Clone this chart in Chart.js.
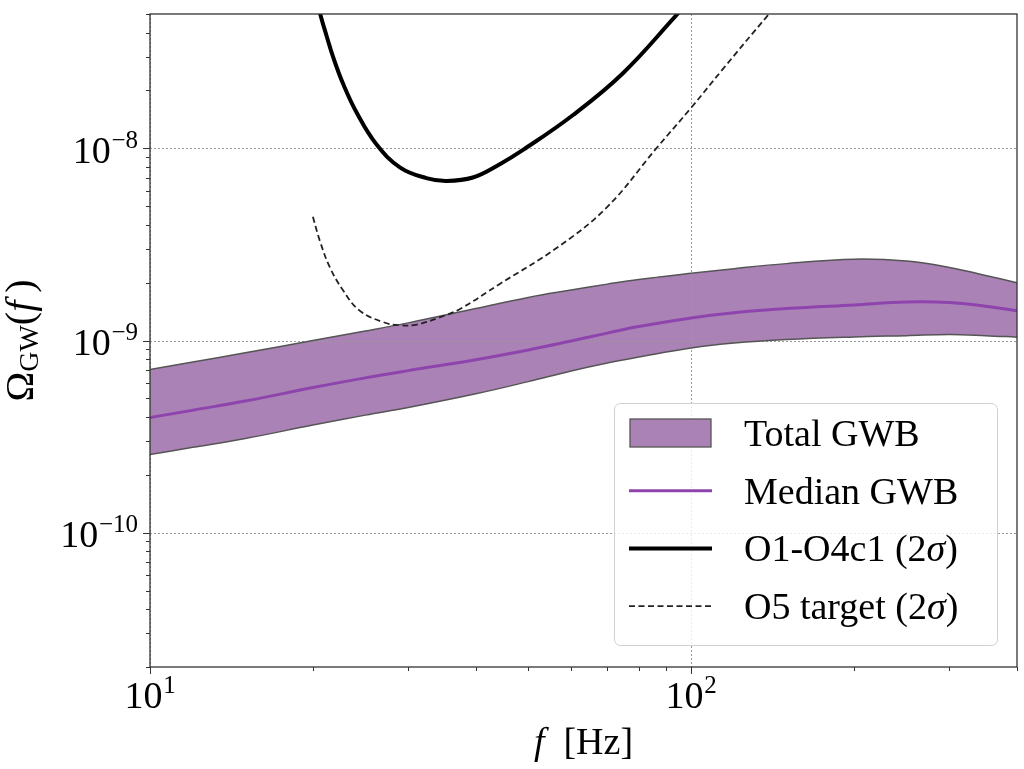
<!DOCTYPE html>
<html>
<head>
<meta charset="utf-8">
<script src="https://cdn.jsdelivr.net/npm/chart.js@4.4.1/dist/chart.umd.min.js"></script>
<style>
  body { margin: 0; background: #fff; }
  #wrap { width: 1024px; height: 769px; }
</style>
</head>
<body>
<div id="wrap"><canvas id="myChart" width="1024" height="769"></canvas></div>
<script>
// frequency grid of the GWB band (Hz) and Omega_GW values
const freqBand = [10, 12, 15, 20, 25, 30, 40, 50, 60, 70, 80, 100, 120, 150, 200, 250, 300, 350, 400];
const bandUpper = [7.07e-10, 7.72e-10, 8.63e-10, 1.0e-9, 1.12e-9, 1.235e-9, 1.466e-9, 1.676e-9, 1.83e-9, 1.965e-9, 2.078e-9, 2.236e-9, 2.365e-9, 2.512e-9, 2.65e-9, 2.59e-9, 2.40e-9, 2.18e-9, 2.0e-9];
const bandMedian = [3.97e-10, 4.34e-10, 4.84e-10, 5.69e-10, 6.39e-10, 6.97e-10, 7.95e-10, 8.93e-10, 9.94e-10, 1.092e-9, 1.182e-9, 1.31e-9, 1.394e-9, 1.466e-9, 1.532e-9, 1.585e-9, 1.576e-9, 1.509e-9, 1.43e-9];
const bandLower = [2.55e-10, 2.78e-10, 3.09e-10, 3.63e-10, 4.09e-10, 4.48e-10, 5.28e-10, 6.11e-10, 6.94e-10, 7.64e-10, 8.2e-10, 9.14e-10, 9.7e-10, 1.012e-9, 1.044e-9, 1.06e-9, 1.075e-9, 1.06e-9, 1.04e-9];

// O1-O4c1 upper limit curve
const freqO4 = [20, 20.66, 21.2, 21.8, 22.75, 24.1, 26.2, 29.0, 32.4, 35.3, 39.5, 44.3, 48.9, 60.5, 74.8, 93.9, 100];
const limitO4 = [7.14e-8, 4.93e-8, 3.84e-8, 2.98e-8, 2.16e-8, 1.53e-8, 1.05e-8, 7.94e-9, 7.0e-9, 6.77e-9, 7.05e-9, 8.27e-9, 9.81e-9, 1.491e-8, 2.46e-8, 4.93e-8, 6.0e-8];

// O5 target curve
const freqO5 = [20, 20.6, 21.5, 22.75, 24.4, 27.0, 29.0, 31.1, 34.3, 37.4, 44.3, 56.4, 69.7, 86.2, 100, 114.5, 138.7, 150];
const targetO5 = [4.4e-9, 3.3e-9, 2.4e-9, 1.82e-9, 1.43e-9, 1.245e-9, 1.2e-9, 1.21e-9, 1.32e-9, 1.46e-9, 1.97e-9, 3.03e-9, 4.9e-9, 9.99e-9, 1.627e-8, 2.59e-8, 4.93e-8, 6.3e-8];

// axis ticks
const xTicks = [10, 100];
const xTickExp = ["1", "2"];
const yTicks = [1e-10, 1e-9, 1e-8];
const yTickExp = ["\u221210", "\u22129", "\u22128"];
const xMin = 10, xMax = 400, yMin = 2e-11, yMax = 5e-8;

const SERIF = '"Liberation Serif", "DejaVu Serif", serif';
const FONT = "38px " + SERIF;
const ITAL = "italic 38px " + SERIF;
const SUP = "25px " + SERIF;
const TFONT = "40px " + SERIF;
const TITAL = "italic 40px " + SERIF;
const SUB = "28px " + SERIF;

const bandColor = "rgb(171,130,182)";
const medianColor = "rgb(142,68,173)";

function toXY(xs, ys) {
    return xs.map((x, i) => ({ x: x, y: ys[i] }));
}

function minorTicks(lo, hi) {
    const out = [];
    for (let e = Math.floor(Math.log10(lo)); e <= Math.ceil(Math.log10(hi)); e++) {
        for (let m = 1; m <= 9; m++) {
            const v = m * Math.pow(10, e);
            if (v >= lo * 0.999 && v <= hi * 1.001) out.push({ v: v, major: m === 1 });
        }
    }
    return out;
}

function runsWidth(ctx, runs) {
    let w = 0;
    runs.forEach((r) => { ctx.font = r.font; w += ctx.measureText(r.t).width; });
    return w;
}

function drawRuns(ctx, runs, x, y) {
    runs.forEach((r) => {
        ctx.font = r.font;
        ctx.fillText(r.t, x, y + (r.dy || 0));
        x += ctx.measureText(r.t).width;
    });
}

function powRuns(exp) {
    return [{ t: "10", font: FONT }, { t: " ", font: "3px " + SERIF }, { t: exp, font: SUP, dy: -15 }];
}

const axesPlugin = {
    id: "axesPlugin",
    beforeDatasetsDraw(chart) {
        // dotted grid: above the band fill, under the curves
        const { ctx, chartArea: a, scales } = chart;
        ctx.save();
        ctx.strokeStyle = "#999";
        ctx.lineWidth = 1;
        ctx.setLineDash([2, 2]);
        xTicks.forEach((v) => {
            const px = Math.round(scales.x.getPixelForValue(v)) + 0.5;
            ctx.beginPath(); ctx.moveTo(px, a.top); ctx.lineTo(px, a.bottom); ctx.stroke();
        });
        yTicks.forEach((v) => {
            const py = Math.round(scales.y.getPixelForValue(v)) + 0.5;
            ctx.beginPath(); ctx.moveTo(a.left, py); ctx.lineTo(a.right, py); ctx.stroke();
        });
        ctx.restore();
    },
    afterDraw(chart) {
        const { ctx, chartArea: a, scales } = chart;
        ctx.save();
        // tick marks
        ctx.strokeStyle = "#333";
        ctx.lineWidth = 1;
        minorTicks(xMin, xMax).forEach((t) => {
            const px = Math.round(scales.x.getPixelForValue(t.v)) + 0.5;
            ctx.beginPath(); ctx.moveTo(px, a.bottom); ctx.lineTo(px, a.bottom + (t.major ? 7 : 4)); ctx.stroke();
        });
        minorTicks(yMin, yMax).forEach((t) => {
            const py = Math.round(scales.y.getPixelForValue(t.v)) + 0.5;
            ctx.beginPath(); ctx.moveTo(a.left, py); ctx.lineTo(a.left - (t.major ? 7 : 4), py); ctx.stroke();
        });
        // frame
        ctx.strokeStyle = "#333";
        ctx.lineWidth = 1.3;
        ctx.strokeRect(a.left, a.top, a.right - a.left, a.bottom - a.top);

        // tick labels
        ctx.fillStyle = "#000";
        ctx.textBaseline = "alphabetic";
        ctx.textAlign = "left";
        xTicks.forEach((v, i) => {
            const runs = powRuns(xTickExp[i]);
            const w = runsWidth(ctx, runs);
            drawRuns(ctx, runs, scales.x.getPixelForValue(v) - w / 2, a.bottom + 41);
        });
        yTicks.forEach((v, i) => {
            const runs = powRuns(yTickExp[i]);
            const w = runsWidth(ctx, runs);
            drawRuns(ctx, runs, a.left - 12 - w, scales.y.getPixelForValue(v) + 14.5);
        });

        // x title
        const xt = [{ t: "f", font: ITAL }, { t: "  [Hz]", font: FONT }];
        drawRuns(ctx, xt, (a.left + a.right) / 2 - runsWidth(ctx, xt) / 2, 754);

        // y title, rotated
        const yt = [{ t: "\u03A9", font: TFONT }, { t: "GW", font: SUB, dy: 5 }, { t: "(", font: TFONT }, { t: "f", font: TITAL }, { t: "\u2009)", font: TFONT }];
        ctx.translate(33, (a.top + a.bottom) / 2);
        ctx.rotate(-Math.PI / 2);
        drawRuns(ctx, yt, -runsWidth(ctx, yt) / 2, 0);
        ctx.restore();
    }
};

const legendPlugin = {
    id: "boxLegend",
    afterDatasetsDraw(chart) {
        const { ctx, chartArea: a } = chart;
        const ds = chart.data.datasets;
        const w = 383, h = 242;
        const x0 = a.right - 20 - w, y0 = a.bottom - 22 - h;
        ctx.save();
        ctx.beginPath();
        ctx.roundRect(x0 + 0.5, y0 + 0.5, w, h, 6);
        ctx.fillStyle = "rgba(255,255,255,0.8)";
        ctx.fill();
        ctx.strokeStyle = "#d0d0d0";
        ctx.lineWidth = 1;
        ctx.stroke();

        const items = [
            { ds: ds[3], kind: "patch", runs: [{ t: "Total GWB", font: FONT }] },
            { ds: ds[2], kind: "line", runs: [{ t: "Median GWB", font: FONT }] },
            { ds: ds[0], kind: "line", runs: [{ t: "O1-O4c1 (2", font: FONT }, { t: "\u03C3", font: ITAL }, { t: ")", font: FONT }] },
            { ds: ds[1], kind: "line", runs: [{ t: "O5 target (2", font: FONT }, { t: "\u03C3", font: ITAL }, { t: ")", font: FONT }] }
        ];
        items.forEach((it, i) => {
            const cy = y0 + 30 + i * 57.7;
            const mx0 = x0 + 15, mx1 = x0 + 98;
            if (it.kind === "patch") {
                ctx.setLineDash([]);
                ctx.fillStyle = it.ds.backgroundColor;
                ctx.fillRect(mx0 + 1, cy - 14, mx1 - mx0 - 2, 28);
                ctx.strokeStyle = it.ds.borderColor;
                ctx.lineWidth = 1.3;
                ctx.strokeRect(mx0 + 1, cy - 14, mx1 - mx0 - 2, 28);
            } else {
                ctx.strokeStyle = it.ds.borderColor;
                ctx.lineWidth = it.ds.borderWidth;
                ctx.setLineDash(it.ds.borderDash || []);
                ctx.beginPath(); ctx.moveTo(mx0, cy); ctx.lineTo(mx1, cy); ctx.stroke();
            }
            ctx.setLineDash([]);
            ctx.fillStyle = "#000";
            drawRuns(ctx, it.runs, x0 + 130, cy + 13);
        });
        ctx.restore();
    }
};

const myChart = document.getElementById("myChart");
new Chart(myChart, {
    type: "line",
    data: {
        datasets: [
            { label: "O1-O4c1 (2\u03C3)", data: toXY(freqO4, limitO4), borderColor: "#000", borderWidth: 4, fill: false },
            { label: "O5 target (2\u03C3)", data: toXY(freqO5, targetO5), borderColor: "#222", borderWidth: 1.8, borderDash: [6, 3.5], fill: false },
            { label: "Median GWB", data: toXY(freqBand, bandMedian), borderColor: medianColor, borderWidth: 3, fill: false },
            { label: "Total GWB", data: toXY(freqBand, bandUpper), borderColor: "#555", borderWidth: 1.5, backgroundColor: bandColor, fill: "+1" },
            { label: "Total GWB lower", data: toXY(freqBand, bandLower), borderColor: "#555", borderWidth: 1.5, fill: false }
        ]
    },
    options: {
        responsive: false,
        animation: false,
        layout: { padding: { left: 150, right: 7, top: 14, bottom: 102 } },
        elements: { point: { radius: 0 }, line: { tension: 0.4, capBezierPoints: false } },
        scales: {
            x: { type: "logarithmic", min: xMin, max: xMax, display: false },
            y: { type: "logarithmic", min: yMin, max: yMax, display: false }
        },
        plugins: {
            legend: { display: false },
            tooltip: { enabled: false },
            filler: { drawTime: "beforeDatasetsDraw" }
        }
    },
    plugins: [axesPlugin, legendPlugin]
});
</script>
</body>
</html>
